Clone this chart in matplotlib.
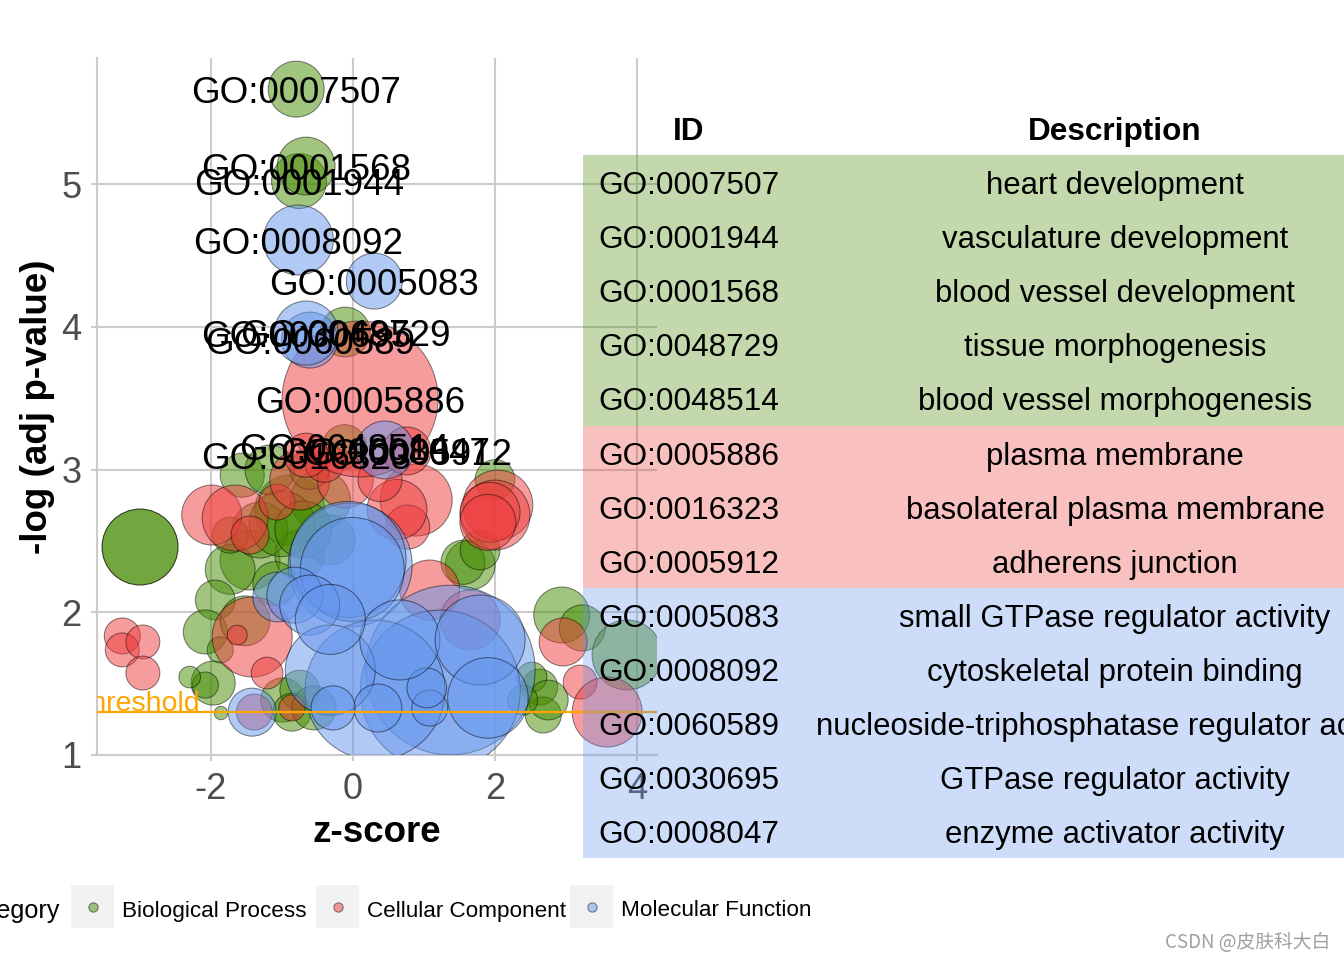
import matplotlib
matplotlib.use('Agg')
import matplotlib.pyplot as plt
from matplotlib import font_manager
from matplotlib.patches import Rectangle
import numpy as np

plt.rcParams['font.family'] = ['Liberation Sans', 'DejaVu Sans']
plt.rcParams['axes.unicode_minus'] = False

# category colours (GOplot defaults)
cat_names = ['Biological Process', 'Cellular Component', 'Molecular Function']
cat_cols = ['#458B00', '#EE3B3B', '#6495ED']

# labelled terms: id, category, z-score, -log(adj p), gene count
lab_id = ['GO:0007507', 'GO:0001944', 'GO:0001568', 'GO:0048729', 'GO:0048514',
          'GO:0005886', 'GO:0016323', 'GO:0005912',
          'GO:0005083', 'GO:0008092', 'GO:0060589', 'GO:0030695', 'GO:0008047']
lab_desc = ['heart development', 'vasculature development', 'blood vessel development',
            'tissue morphogenesis', 'blood vessel morphogenesis',
            'plasma membrane', 'basolateral plasma membrane', 'adherens junction',
            'small GTPase regulator activity', 'cytoskeletal protein binding',
            'nucleoside-triphosphatase regulator activity', 'GTPase regulator activity',
            'enzyme activator activity']
lab_cat = [0, 0, 0, 0, 0, 1, 1, 1, 2, 2, 2, 2, 2]
lab_z = [-0.80, -0.76, -0.66, -0.11, -0.12, 0.10, -0.66, 0.76, 0.30, -0.77, -0.61, -0.66, 0.45]
lab_logp = [5.665, 5.021, 5.126, 3.963, 3.16, 3.494, 3.10, 3.13, 4.32, 4.608, 3.907, 3.956, 3.137]
lab_count = [87, 84, 93, 69, 54, 676, 54, 64, 87, 136, 87, 114, 93]

# remaining terms per category
bp_z = [-3.00, -3.00, -1.56, -0.89, -1.45, -0.75, -1.73, -1.94, -2.08, -1.87, -1.97, -2.08,
        -2.30, -1.86, -0.99, -0.75, -0.46, -1.17, -0.61, -1.31, -0.32, -1.73, -1.52, -1.10,
        1.65, 1.55, 1.79, 2.00, 2.94, 3.23, 3.86, 2.63, 2.68, 2.52, 2.75, 2.39, -0.86, -0.55,
        -1.00, -0.70]
bp_logp = [2.457, 2.457, 2.96, 2.716, 2.366, 2.40, 2.30, 2.086, 1.862, 1.736, 1.504, 1.49,
           1.546, 1.294, 1.385, 1.455, 2.786, 2.997, 3.00, 2.576, 2.506, 2.54, 1.94, 2.20,
           2.331, 2.35, 2.436, 2.93, 1.981, 1.89, 1.701, 1.476, 1.28, 1.546, 1.385, 1.385, 1.30, 1.33,
           2.62, 2.58]
bp_count = [160, 160, 54, 136, 100, 69, 69, 44, 54, 19, 54, 19,
            13, 5, 54, 44, 100, 69, 44, 87, 69, 36, 69, 54,
            69, 54, 44, 44, 87, 59, 136, 36, 36, 25, 44, 25, 40, 54,
            120, 90]

cc_z = [-1.99, -1.66, -1.45, -1.07, -0.75, -0.11, 0.89, 0.77, 0.62, 0.38, 2.04, 2.00,
        1.93, 1.90, -1.42, -1.63, -1.21, -0.86, -3.25, -3.25, -2.96, -2.96, 2.96, 3.20,
        3.58, 1.08, 1.65, -1.39, -0.40]
cc_logp = [2.681, 2.66, 2.541, 2.772, 2.926, 2.926, 2.786, 2.597, 2.72, 2.93, 2.751, 2.681,
           2.70, 2.63, 1.827, 1.84, 1.574, 1.33, 1.834, 1.736, 1.792, 1.574, 1.792, 1.511,
           1.301, 2.156, 1.946, 1.301, 3.05]
cc_count = [100, 121, 40, 36, 100, 87, 144, 54, 100, 54, 136, 136,
            100, 87, 178, 11, 28, 19, 36, 32, 32, 32, 64, 32,
            136, 100, 100, 36, 44]

mf_z = [-0.04, -0.07, -0.01, -1.06, -0.82, -0.61, -1.42, 1.37, 1.23, 0.31, -0.32, 0.35,
        1.08, 1.04, -0.28, 0.66, 1.79, -0.32, 1.90]
mf_logp = [2.331, 2.37, 2.30, 2.107, 2.12, 2.05, 1.30, 1.595, 1.455, 1.455, 1.595, 1.329,
           1.329, 1.47, 1.33, 1.806, 1.806, 1.95, 1.40]
mf_count = [427, 374, 300, 69, 87, 100, 64, 800, 711, 544, 225, 64,
            36, 44, 54, 178, 225, 136, 180]

threshold = -np.log10(0.05)

fig = plt.figure(figsize=(13.44, 9.6), dpi=100)
W, H = 1344, 960
ax = fig.add_axes([97 / W, 1 - 755 / H, 560 / W, 697 / H])

size_k = 18.66  # marker area per gene
bg = [(bp_z, bp_logp, bp_count), (cc_z, cc_logp, cc_count), (mf_z, mf_logp, mf_count)]
for ci in range(3):
    z = list(bg[ci][0]) + [lab_z[i] for i in range(len(lab_id)) if lab_cat[i] == ci]
    lp = list(bg[ci][1]) + [lab_logp[i] for i in range(len(lab_id)) if lab_cat[i] == ci]
    cnt = list(bg[ci][2]) + [lab_count[i] for i in range(len(lab_id)) if lab_cat[i] == ci]
    ax.scatter(z, lp, s=np.array(cnt) * size_k, c=cat_cols[ci], alpha=0.5,
               edgecolors='black', linewidths=0.7, zorder=3)

for i, t in enumerate(lab_id):
    ax.annotate(t, (lab_z[i], lab_logp[i]), xytext=(0, -3), textcoords='offset points',
                fontsize=26.5, ha='center', va='center', zorder=5)

ax.axhline(threshold, color='orange', lw=1.6, zorder=4)
ax.text((200 - 353) / 71, threshold + 0.01, 'Threshold', color='orange', fontsize=20.5,
        ha='right', va='baseline', zorder=4, clip_on=True)

ax.set_xlim(-3.606, 4.282)
ax.set_ylim(1.0, 5.883)
ax.set_xticks([-2, 0, 2, 4])
ax.set_yticks([1, 2, 3, 4, 5])
ax.grid(True, color='#CCCCCC', lw=1.5, zorder=0)
ax.set_axisbelow(True)
for s in ['top', 'right']:
    ax.spines[s].set_visible(False)
for s in ['left', 'bottom']:
    ax.spines[s].set_color('#CCCCCC')
    ax.spines[s].set_linewidth(1.5)
ax.tick_params(colors='#CCCCCC', labelcolor='#4D4D4D', labelsize=26, length=4, width=1.5)
ax.tick_params(axis='x', pad=8)
ax.tick_params(axis='y', pad=7)
ax.set_xlabel('z-score', fontsize=26.5, fontweight='bold', labelpad=6)
ax.set_ylabel('-log (adj p-value)', fontsize=26.5, fontweight='bold', labelpad=5)
ax.set_facecolor('none')

# table overlay in pixel coordinates
tab = fig.add_axes([0, 0, 1, 1], zorder=10)
tab.set_xlim(0, W)
tab.set_ylim(H, 0)
tab.axis('off')
tab.patch.set_alpha(0)
row_top, row_h = 155, 54.1
tab.text(689, 132, 'ID', fontsize=22.7, fontweight='bold', ha='center', va='center')
tab.text(1115, 132, 'Description', fontsize=22.7, fontweight='bold', ha='center', va='center')
for i in range(len(lab_id)):
    y0 = row_top + i * row_h
    tab.add_patch(Rectangle((583, y0), W - 583, row_h, facecolor=cat_cols[lab_cat[i]],
                            alpha=0.32, edgecolor='none'))
    tab.text(689, y0 + row_h / 2 + 4, lab_id[i], fontsize=22.7, ha='center', va='center')
    tab.text(1115, y0 + row_h / 2 + 4, lab_desc[i], fontsize=22.4, ha='center', va='center')

# legend
names = [f.name for f in font_manager.fontManager.ttflist]
if 'Liberation Sans Narrow' in names:
    lfam, lsize = ['Liberation Sans Narrow', 'Liberation Sans'], 20
else:
    lfam, lsize = ['Liberation Sans'], 16.2
tab.text(60, 911, 'Category', fontsize=lsize + 2, family=lfam, ha='right', va='center')
box_x = [71, 316, 570]
for i in range(3):
    tab.add_patch(Rectangle((box_x[i], 885), 43, 43, facecolor='#F2F2F2', edgecolor='none'))
    tab.scatter([box_x[i] + 21.5], [907], s=45, c=cat_cols[i], alpha=0.5,
                edgecolors='black', linewidths=0.7)
    tab.text(box_x[i] + 51, 911, cat_names[i], fontsize=lsize, family=lfam,
             ha='left', va='center')

tab.text(1330, 942, 'CSDN @皮肤科大白', fontsize=13.5, color='#A0A0A0', ha='right', va='center',
         family=['Noto Sans CJK SC', 'DejaVu Sans'])

fig.savefig('out.png', dpi=100)
